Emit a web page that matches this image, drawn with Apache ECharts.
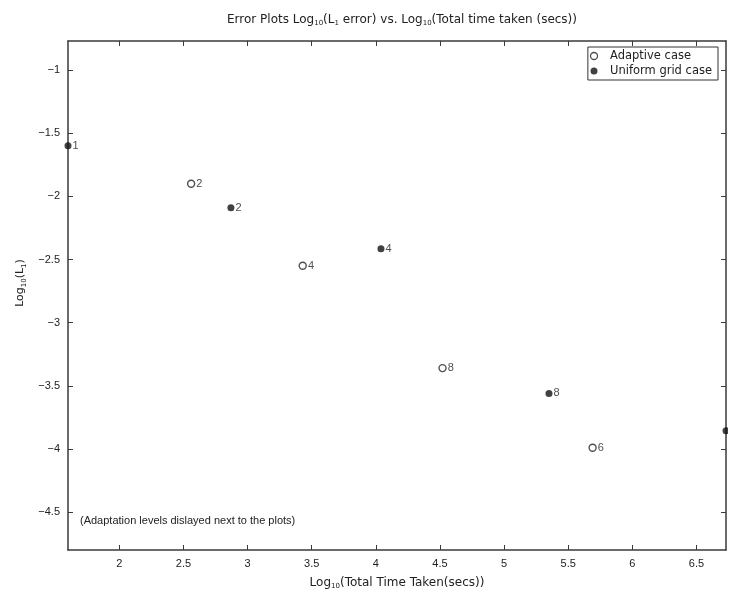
<!DOCTYPE html>
<html>
<head>
<meta charset="utf-8">
<script src="https://cdn.jsdelivr.net/npm/echarts@6/dist/echarts.min.js"></script>
<style>html,body{margin:0;padding:0;background:#fff;}#c{width:734px;height:595px;}</style>
</head>
<body>
<div id="c"></div>
<script>
// Data
const adaptiveX = [2.56, 3.43, 4.52, 5.69];
const adaptiveY = [-1.90, -2.55, -3.36, -3.99];
const adaptiveLevels = ['2', '4', '8', '6'];

const uniformX = [1.6, 2.87, 4.04, 5.35, 6.73];
const uniformY = [-1.60, -2.09, -2.415, -3.56, -3.855];
const uniformLevels = ['1', '2', '4', '8', '16'];

const xTicks = [2, 2.5, 3, 3.5, 4, 4.5, 5, 5.5, 6, 6.5];
const yTicks = [-1, -1.5, -2, -2.5, -3, -3.5, -4, -4.5];

const X_MIN = 1.6, X_MAX = 6.73, Y_MIN = -4.8, Y_MAX = -0.77;

const chart = echarts.init(document.getElementById('c'), null, {renderer: 'canvas'});
const FONT = 'Liberation Sans, Arial, sans-serif';
const WFONT = 'DejaVu Sans, Liberation Sans, sans-serif';
const lineStyle = {color: '#3a3a3a', width: 1.5};

function mkAxis(type, show, pos) {
  return {
    type: 'value',
    position: pos,
    min: type === 'x' ? X_MIN : Y_MIN,
    max: type === 'x' ? X_MAX : Y_MAX,
    axisLine: {show: true, onZero: false, lineStyle: lineStyle},
    axisTick: {show: true, inside: true, length: 5, lineStyle: {color: '#3a3a3a', width: 1},
      customValues: type === 'x' ? xTicks : yTicks},
    axisLabel: {show: show, color: '#222', fontFamily: FONT, fontSize: 11, margin: 8,
      customValues: type === 'x' ? xTicks : yTicks,
      formatter: v => (v < 0 ? '\u2212' + String(-v) : String(v))},
    splitLine: {show: false}
  };
}

const xMain = mkAxis('x', true, 'bottom');
xMain.name = '{n|Log}{s|10}{n|(Total Time Taken(secs))}';
xMain.nameLocation = 'middle';
xMain.nameGap = 26;
xMain.nameTextStyle = {rich: {
  n: {fontFamily: WFONT, fontSize: 12, color: '#222'},
  s: {fontFamily: WFONT, fontSize: 7, color: '#222', padding: [7, 0, 0, 0]}
}};
const xTop = mkAxis('x', false, 'top');

const yMain = mkAxis('y', true, 'left');
yMain.name = '{n|Log}{s|10}{n|(L}{s|1}{n|)}';
yMain.nameLocation = 'middle';
yMain.nameGap = 38;
yMain.nameRotate = 90;
yMain.nameTextStyle = {padding: [0, 0, 0, 25], rich: {
  n: {fontFamily: WFONT, fontSize: 11, color: '#222'},
  s: {fontFamily: WFONT, fontSize: 7, color: '#222', padding: [7, 0, 0, 0]}
}};
const yRight = mkAxis('y', false, 'right');

const labelCfg = (arr) => ({
  show: true, position: 'right', distance: 1,
  formatter: p => arr[p.dataIndex],
  color: '#222', fontFamily: FONT, fontSize: 11
});

chart.setOption({
  backgroundColor: '#fff',
  animation: false,
  title: {
    text: '{n|Error Plots Log}{s|10}{n|(L}{s|1}{n| error) vs. Log}{s|10}{n|(Total time taken (secs))}',
    left: 397, top: 8, textAlign: 'center',
    textStyle: {rich: {
      n: {fontFamily: WFONT, fontSize: 12, fontWeight: 'normal', color: '#222'},
      s: {fontFamily: WFONT, fontSize: 7, fontWeight: 'normal', color: '#222', padding: [7, 0, 0, 0]}
    }}
  },
  grid: {left: 68, right: 8, top: 41, bottom: 41, containLabel: false},
  xAxis: [xMain, xTop],
  yAxis: [yMain, yRight],
  legend: {
    right: 16, top: 47, orient: 'vertical', itemGap: 3, itemWidth: 22, itemHeight: 7,
    padding: [3, 6, 3, 2],
    borderColor: '#333', borderWidth: 1, backgroundColor: '#fff',
    textStyle: {fontFamily: WFONT, fontSize: 11.5, color: '#222'},
    data: [
      {name: 'Adaptive case', icon: 'circle', itemStyle: {color: '#fff', borderColor: '#222', borderWidth: 1.3}},
      {name: 'Uniform grid case', icon: 'circle', itemStyle: {color: '#111'}}
    ]
  },
  series: [
    {
      name: 'Adaptive case', type: 'scatter', symbol: 'circle', symbolSize: 7,
      itemStyle: {color: '#fff', borderColor: '#222', borderWidth: 1.4},
      label: labelCfg(adaptiveLevels),
      data: adaptiveX.map((x, i) => [x, adaptiveY[i]])
    },
    {
      name: 'Uniform grid case', type: 'scatter', symbol: 'circle', symbolSize: 7,
      itemStyle: {color: '#111'},
      label: labelCfg(uniformLevels),
      data: uniformX.map((x, i) => [x, uniformY[i]])
    }
  ],
  graphic: [
    {type: 'text', left: 80, top: 515,
      style: {text: '(Adaptation levels dislayed next to the plots)', fontFamily: FONT, fontSize: 11, fill: '#222'}},
    {type: 'rect', shape: {x: 728, y: 30, width: 10, height: 560}, style: {fill: '#fff'}, z: 100}
  ]
});
</script>
</body>
</html>
